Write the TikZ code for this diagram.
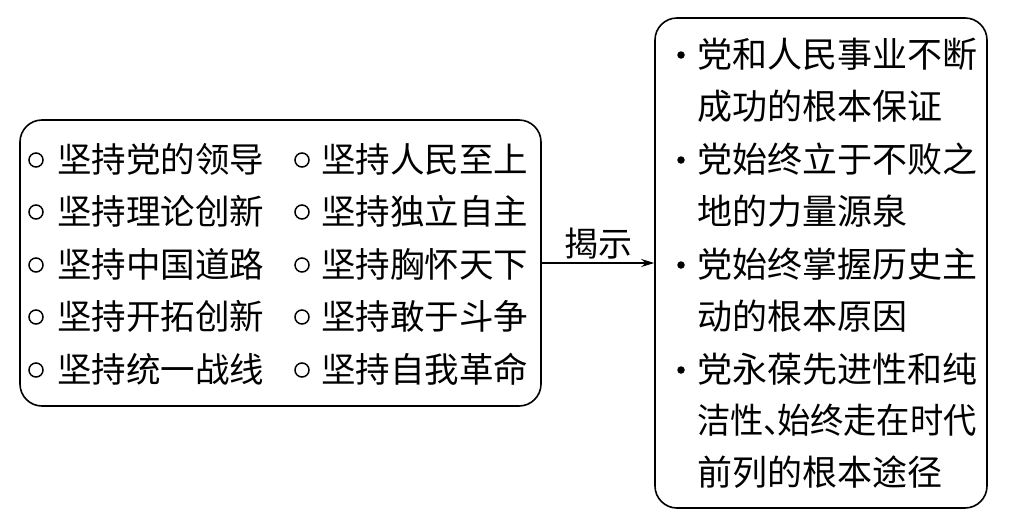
\documentclass[tikz,border=0pt]{standalone}
\usepackage{fontspec}
\setmainfont{Noto Sans CJK SC}
\usetikzlibrary{arrows.meta}
\begin{document}
\begin{tikzpicture}[x=1pt,y=-1pt,
  box/.style={draw, line width=1.6pt, rounded corners=22pt, inner sep=0pt},
  ltxt/.style={anchor=base west, inner sep=0pt, font=\fontsize{34.5}{34.5}\selectfont},
  rtxt/.style={anchor=base west, inner sep=0pt, font=\fontsize{35}{35}\selectfont},
  ring/.style={draw, circle, line width=1.5pt, minimum size=14pt, inner sep=0pt},
  dot/.style={fill, circle, minimum size=7.5pt, inner sep=0pt},
  arr/.style={line width=1.3pt, -{Stealth[length=13pt,width=8pt]}}]
\useasboundingbox (0,0) rectangle (1018,517);
\node[box, minimum width=521pt, minimum height=286pt] (L) at (280.5,263) {};
\node[box, minimum width=332pt, minimum height=490pt] (R) at (821,263) {};
% left column 1
\foreach \t/\y [count=\i] in {坚持党的领导/160,坚持理论创新/212,坚持中国道路/265,坚持开拓创新/317,坚持统一战线/370}{
  \node[ring] (ca\i) at (36,\y) {};
  \node[ltxt] (ta\i) at (57,\y+12.5) {\t};
}
% left column 2
\foreach \t/\y [count=\i] in {坚持人民至上/160,坚持独立自主/212,坚持胸怀天下/265,坚持敢于斗争/317,坚持自我革命/370}{
  \node[ring] (cb\i) at (302,\y) {};
  \node[ltxt] (tb\i) at (321,\y+12.5) {\t};
}
% right box bullets
\foreach \y [count=\i] in {55,160,265,370}{
  \node[dot] (d\i) at (681,\y) {};
}
\node[rtxt] (r1) at (697,55+12.5) {党和人民事业不断};
\node[rtxt] (r2) at (697,107+12.5) {成功的根本保证};
\node[rtxt] (r3) at (697,160+12.5) {党始终立于不败之};
\node[rtxt] (r4) at (697,212+12.5) {地的力量源泉};
\node[rtxt] (r5) at (697,265+12.5) {党始终掌握历史主};
\node[rtxt] (r6) at (697,317+12.5) {动的根本原因};
\node[rtxt] (r7) at (697,370+12.5) {党永葆先进性和纯};
\node[rtxt] (r8) at (697,421+12.5) {\scalebox{0.95}[1]{洁性、\kern-0.6em始终走在时代}};
\node[rtxt] (r9) at (697,473+12.5) {前列的根本途径};
% arrow
\draw[arr] (L) -- node[midway, above, inner sep=3pt, font=\fontsize{34}{34}\selectfont] (lab) {揭示} (R);
\end{tikzpicture}
\end{document}
